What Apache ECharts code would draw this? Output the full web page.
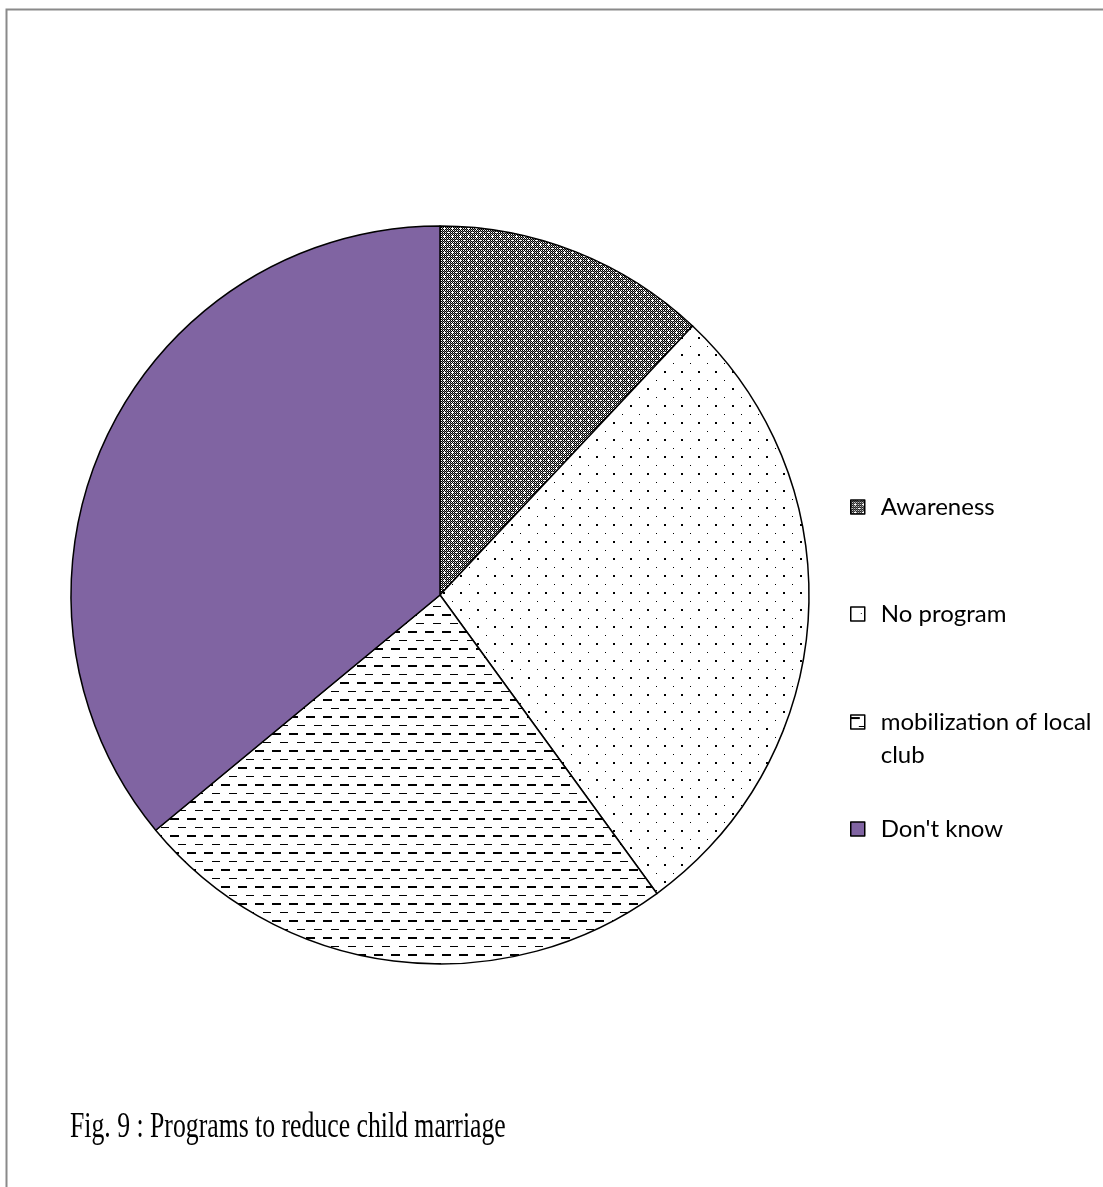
<!DOCTYPE html>
<html>
<head>
<meta charset="utf-8">
<script src="https://cdn.jsdelivr.net/npm/echarts@6/dist/echarts.min.js"></script>
<style>
  html, body { margin: 0; padding: 0; background: #fff; }
  #chart { width: 1103px; height: 1187px; }
</style>
</head>
<body>
<div id="chart"></div>
<script>
// Survey responses: programs to reduce child marriage (percent of respondents)
const categories = ['Awareness', 'No program', 'mobilization of local club', "Don't know"];
const values = [12, 28, 24, 36];
const figureCaption = 'Fig. 9 : Programs to reduce child marriage';

// --- fill patterns -------------------------------------------------------
function makeTile(w, h, draw) {
  const c = document.createElement('canvas');
  c.width = w; c.height = h;
  const ctx = c.getContext('2d');
  ctx.fillStyle = '#fff';
  ctx.fillRect(0, 0, w, h);
  draw(ctx);
  return c;
}

// dense checkered grid with small white crosses
const gridTile = makeTile(8, 8, ctx => {
  for (let y = 0; y < 8; y++) {
    for (let x = 0; x < 8; x++) {
      if ((x + y) % 2 === 0) { ctx.fillStyle = '#000'; ctx.fillRect(x, y, 1, 1); }
      else if (y % 2 === 1) { ctx.fillStyle = '#777'; ctx.fillRect(x, y, 1, 1); }
    }
  }
  ctx.fillStyle = '#fff';
  [[4, 4], [3, 4], [5, 4], [4, 3], [4, 5], [0, 0]].forEach(p => ctx.fillRect(p[0], p[1], 1, 1));
});

// sparse dots: a large dot and a small offset dot
const dotTile = makeTile(17, 17, ctx => {
  ctx.fillStyle = '#000';
  ctx.fillRect(1, 14, 2, 2);
  ctx.fillRect(10, 6, 1, 1);
});

// horizontal dashes, thick and thin rows alternating
const dashTile = makeTile(17, 17, ctx => {
  ctx.fillStyle = '#000';
  ctx.fillRect(0, 2, 9, 2);
  ctx.fillRect(8, 11, 8, 1);
});

const fills = [
  { image: gridTile, repeat: 'repeat' },
  { image: dotTile, repeat: 'repeat' },
  { image: dashTile, repeat: 'repeat' },
  '#8064A2'
];

const legendFont = 'Lato';
const lineH = 33;
// vertical centre of each legend entry's first line
const legendRows = [507, 614, 722, 829];

function legendFor(i) {
  const twoLine = i === 2;
  // the wrapped entry gets an empty leading line so its swatch sits beside the first text line
  const h = twoLine ? lineH * 3 : lineH;
  return {
    orient: 'vertical',
    left: 850,
    top: legendRows[i] - h / 2,
    padding: 0,
    data: [categories[i]],
    icon: 'rect',
    itemWidth: 14,
    itemHeight: 14,
    itemStyle: { borderColor: '#000', borderWidth: 1.5 },
    selectedMode: false,
    formatter: name => twoLine ? '\nmobilization of local\nclub' : name,
    textStyle: {
      fontFamily: legendFont,
      fontSize: 24,
      color: '#000',
      lineHeight: lineH,
      padding: [0, 0, 0, 11]
    }
  };
}

const chart = echarts.init(document.getElementById('chart'), null, { renderer: 'canvas' });
chart.setOption({
  animation: false,
  backgroundColor: '#fff',
  graphic: [{
    type: 'rect',
    shape: { x: 6.5, y: 9.5, width: 1400, height: 1400 },
    style: { fill: 'none', stroke: '#8a8a8a', lineWidth: 2 },
    silent: true
  }, {
    type: 'text',
    x: 70,
    y: 1128,
    scaleX: 0.735,
    silent: true,
    style: {
      text: figureCaption,
      font: '35px "Liberation Serif"',
      fill: '#000',
      verticalAlign: 'middle',
      align: 'left'
    }
  }],
  legend: categories.map((_, i) => legendFor(i)),
  series: [{
    type: 'pie',
    center: [440, 595],
    radius: 369,
    startAngle: 90,
    clockwise: true,
    avoidLabelOverlap: false,
    label: { show: false },
    labelLine: { show: false },
    emphasis: { disabled: true },
    itemStyle: { borderColor: '#000', borderWidth: 1.5 },
    data: categories.map((name, i) => ({
      name: name,
      value: values[i],
      itemStyle: { color: fills[i] }
    }))
  }]
});
</script>
</body>
</html>
